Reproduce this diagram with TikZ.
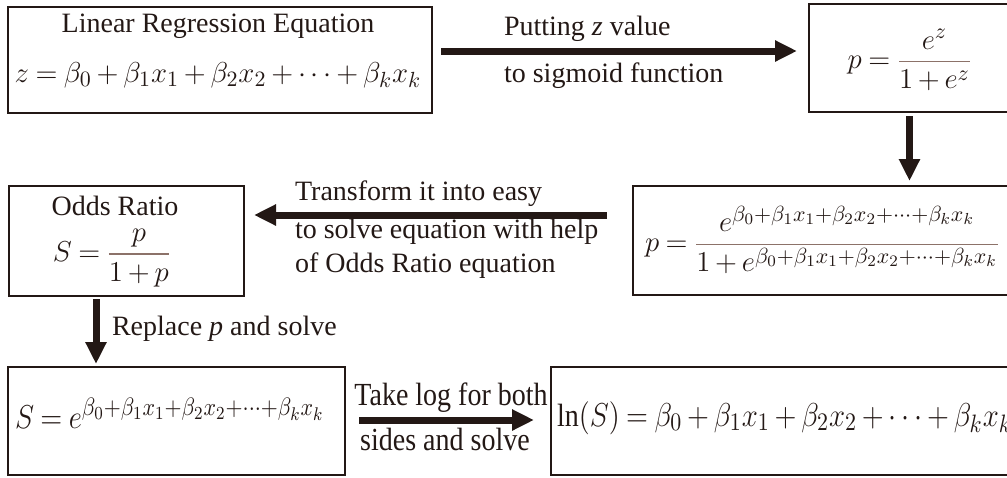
\documentclass[tikz,border=0pt]{standalone}
\usepackage{amsmath}
\usepackage{fontspec}
\setmainfont{Liberation Serif}
\usepackage{tikz}
\usetikzlibrary{
  arrows.meta,   % Triangle tips on the flow arrows
  positioning
}

\definecolor{inkdark}{HTML}{231815}
\definecolor{fracbar}{HTML}{8C7269}
% bigger scripts and tighter spacing, as in the figure
\DeclareMathSizes{14}{14}{11}{8}
\medmuskip=3mu plus 2mu minus 3mu
\thickmuskip=4mu plus 3mu
% fraction with the brownish bar of the figure
\newcommand{\bfrac}[2]{{\color{fracbar}\dfrac{\color{inkdark}#1}{\color{inkdark}#2}}}
\newcommand{\linsum}{\beta_0+\beta_1x_1+\beta_2x_2+\cdots+\beta_kx_k}

\begin{document}
\begin{tikzpicture}[x=0.5pt, y=-0.5pt,
    font=\fontsize{14}{18}\selectfont, text=inkdark,
    box/.style={draw=inkdark, line width=1pt, inner sep=0pt},
    flow/.style={draw=inkdark, line width=3.5pt, -{Triangle[length=11pt,width=10pt]}},
    tall/.style={yscale=1.15}]
            \useasboundingbox (0,0) rectangle (1007,477);

            % Boxes (right column runs off the page edge)
            \node[box, minimum width=212pt, minimum height=53pt] (lineq) at (220,60) {};
            \node[box, minimum width=100.5pt, minimum height=54pt] (sigm) at (909.5,58) {};
            \node[box, minimum width=188.5pt, minimum height=54.5pt] (pfull) at (821.5,240.5) {};
            \node[box, minimum width=117.5pt, minimum height=55pt] (odds) at (126.5,241) {};
            \node[box, minimum width=168.5pt, minimum height=54pt] (sexp) at (176.5,421) {};
            \node[box, minimum width=229.5pt, minimum height=54pt] (lnS) at (780.5,421) {};

            % Box contents
            \node[anchor=base] (lineqt) at (218,32) {Linear Regression Equation};
            \node[anchor=base] (lineqe) at (218,82) {$z=\linsum$};
            \node (sigmt) at (910,60) {$p=\bfrac{e^z}{1+e^z}$};
            \node[anchor=west] (pfullt) at (638,240) {$p=\bfrac{e^{\linsum}}{1+e^{\linsum}}$};
            \node[anchor=base, inner sep=0pt] (oddst) at (115,215) {Odds Ratio};
            \node[inner sep=0pt] (oddse) at (112,258) {$S=\bfrac{p}{1+p}$};
            \node[anchor=base west, tall] (sexpt) at (8,428) {$S=e^{\linsum}$};
            \node[anchor=base west, tall] (lnSt) at (550,426) {$\ln(S)=\linsum$};

            % Flow arrows
            \coordinate (a1) at ([yshift=4.5pt]lineq.east);
            \draw[flow, shorten <=4pt, shorten >=5.5pt] (a1) -- (a1 -| sigm.west);
            \draw[flow, shorten <=1.5pt, shorten >=2pt] (sigm.south) -- (sigm.south |- pfull.north);
            \coordinate (a3) at ([yshift=12.75pt]pfull.west);
            \draw[flow, shorten <=12.5pt, shorten >=4.5pt] (a3) -- (a3 -| odds.east);
            \coordinate (a4) at ([xshift=-15.25pt]odds.south);
            \draw[flow, shorten <=1pt, shorten >=1pt] (a4) -- (a4 |- sexp.north);
            \coordinate (a5) at ([yshift=0.5pt]sexp.east);
            \draw[flow, shorten <=6.5pt, shorten >=8pt] (a5) -- (a5 -| lnS.west);

            % Arrow labels
            \node[anchor=base west] (lbl1a) at (497,35) {Putting \textit{z} value};
            \node[anchor=base west] (lbl1b) at (497,82) {to sigmoid function};
            \node[anchor=base west] (lbl2a) at (288,200) {Transform it into easy};
            \node[anchor=base west] (lbl2b) at (288,238) {to solve equation with help};
            \node[anchor=base west] (lbl2c) at (288,272) {of Odds Ratio equation};
            \node[anchor=base west] (lbl3) at (105,335) {Replace \textit{p} and solve};
            \node[anchor=base, tall] (lbl4a) at (451,405) {Take log for both};
            \node[anchor=base, tall] (lbl4b) at (445,450) {sides and solve};
        \end{tikzpicture}
\end{document}
